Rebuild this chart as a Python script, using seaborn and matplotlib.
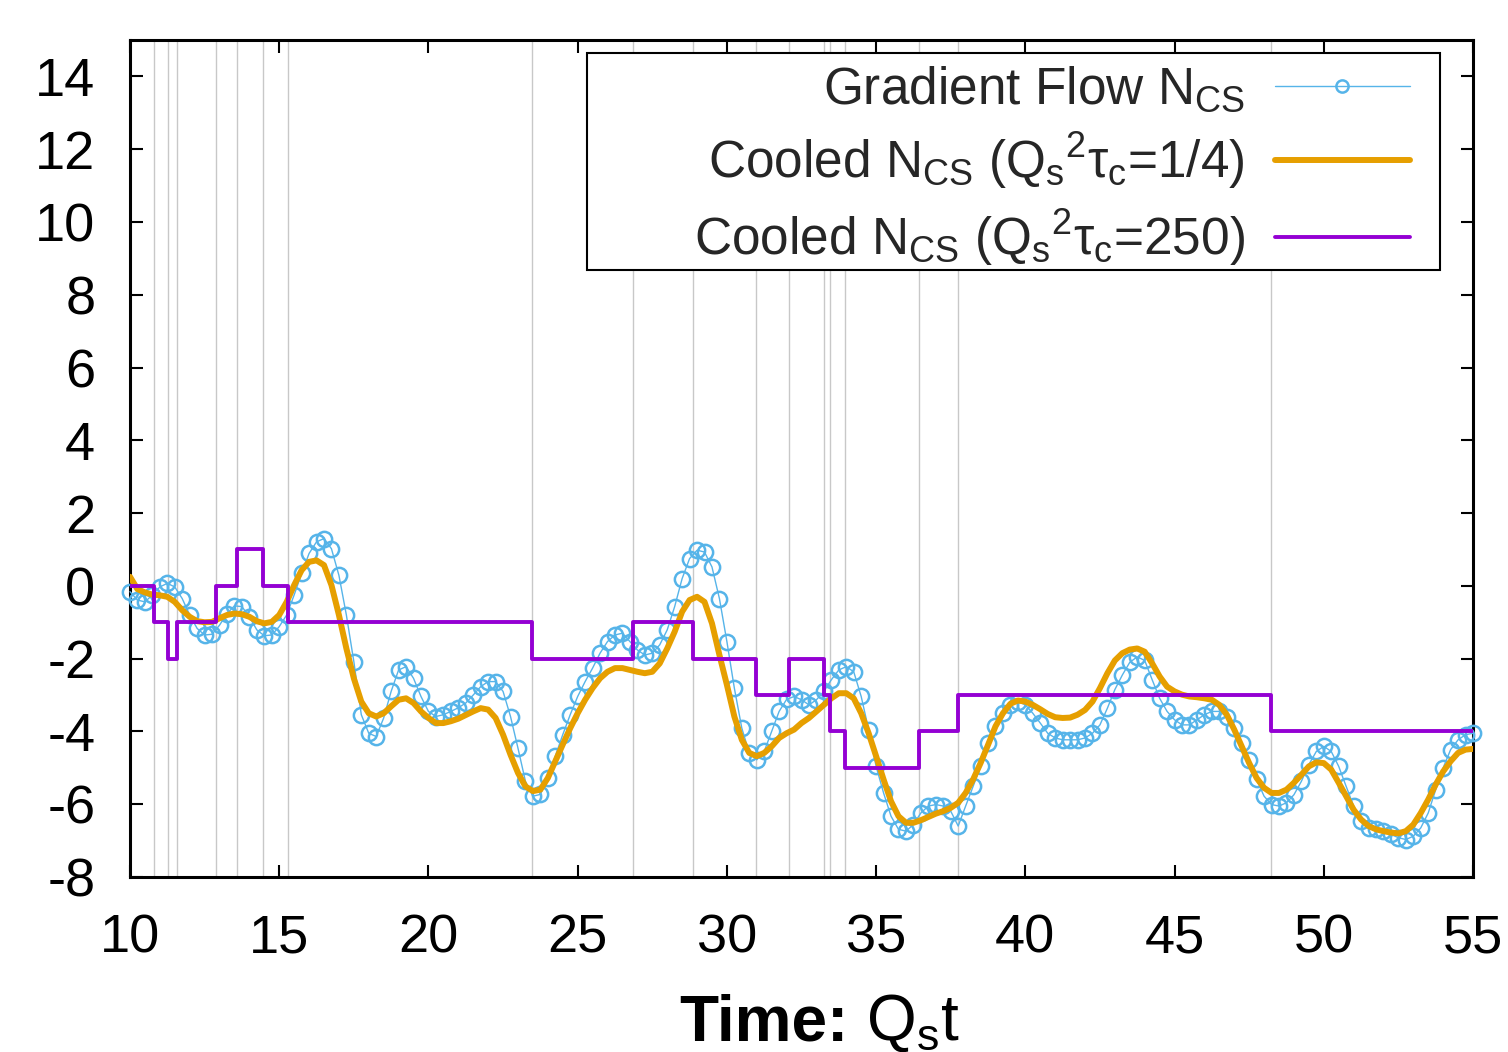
import matplotlib

matplotlib.use("Agg")

import matplotlib.pyplot as plt
import numpy as np
import seaborn as sns
from matplotlib.patches import Rectangle

# time grid of the read-off samples (step 0.25 from 10 to 55)
t_start, t_stop, t_step = 10.0, 55.0, 0.25

gradient_flow = [
    -0.16, -0.39, -0.44, -0.25, -0.03, 0.07, -0.03, -0.35, -0.80, -1.17,
    -1.35, -1.33, -1.08, -0.76, -0.55, -0.57, -0.85, -1.21, -1.37, -1.35,
    -1.12, -0.80, -0.25, 0.34, 0.89, 1.21, 1.30, 1.02, 0.29, -0.80,
    -2.08, -3.54, -4.05, -4.14, -3.63, -2.90, -2.31, -2.22, -2.54, -3.04,
    -3.45, -3.59, -3.54, -3.45, -3.35, -3.22, -3.00, -2.77, -2.63, -2.63,
    -2.90, -3.59, -4.46, -5.37, -5.78, -5.73, -5.28, -4.68, -4.09, -3.54,
    -3.04, -2.63, -2.26, -1.85, -1.53, -1.35, -1.30, -1.53, -1.76, -1.90,
    -1.85, -1.62, -1.21, -0.57, 0.20, 0.75, 0.98, 0.93, 0.52, -0.35,
    -1.53, -2.81, -3.91, -4.59, -4.78, -4.55, -4.00, -3.45, -3.12, -3.04,
    -3.13, -3.27, -3.13, -2.90, -2.58, -2.31, -2.22, -2.36, -3.04, -3.95,
    -4.96, -5.69, -6.33, -6.69, -6.74, -6.56, -6.24, -6.05, -6.01, -6.05,
    -6.19, -6.60, -6.05, -5.51, -4.96, -4.32, -3.86, -3.50, -3.27, -3.18,
    -3.27, -3.50, -3.77, -4.05, -4.18, -4.23, -4.23, -4.23, -4.18, -4.05,
    -3.82, -3.36, -2.85, -2.45, -2.10, -1.95, -2.05, -2.58, -3.09, -3.45,
    -3.68, -3.82, -3.82, -3.68, -3.54, -3.45, -3.45, -3.59, -3.91, -4.32,
    -4.78, -5.32, -5.78, -6.01, -6.05, -5.96, -5.74, -5.37, -4.91, -4.55,
    -4.41, -4.55, -4.96, -5.51, -6.05, -6.47, -6.65, -6.69, -6.74, -6.83,
    -6.92, -6.97, -6.88, -6.65, -6.24, -5.60, -5.00, -4.50, -4.23, -4.09,
    -4.05,
]

cooled_quarter = [
    0.25, -0.09, -0.18, -0.24, -0.26, -0.30, -0.44, -0.67, -0.85, -0.97,
    -1.00, -0.99, -0.89, -0.80, -0.76, -0.78, -0.85, -0.97, -1.03, -0.99,
    -0.80, -0.44, 0.02, 0.43, 0.66, 0.70, 0.57, 0.02, -0.80, -1.72,
    -2.54, -3.18, -3.50, -3.59, -3.50, -3.31, -3.13, -3.09, -3.22, -3.45,
    -3.63, -3.77, -3.77, -3.72, -3.65, -3.55, -3.45, -3.36, -3.40, -3.63,
    -4.09, -4.64, -5.14, -5.51, -5.64, -5.60, -5.28, -4.82, -4.36, -3.91,
    -3.50, -3.13, -2.81, -2.54, -2.36, -2.26, -2.26, -2.31, -2.36, -2.40,
    -2.36, -2.13, -1.72, -1.26, -0.71, -0.39, -0.30, -0.44, -1.03, -1.90,
    -2.72, -3.59, -4.23, -4.59, -4.68, -4.59, -4.41, -4.18, -4.05, -3.95,
    -3.77, -3.63, -3.45, -3.27, -3.09, -2.95, -2.95, -3.09, -3.50, -4.05,
    -4.68, -5.32, -5.92, -6.33, -6.51, -6.51, -6.44, -6.35, -6.26, -6.19,
    -6.10, -5.96, -5.69, -5.32, -4.87, -4.37, -3.86, -3.50, -3.24, -3.15,
    -3.18, -3.27, -3.39, -3.52, -3.61, -3.63, -3.62, -3.54, -3.41, -3.18,
    -2.81, -2.40, -2.05, -1.85, -1.75, -1.72, -1.81, -2.13, -2.49, -2.77,
    -2.90, -2.99, -3.04, -3.06, -3.09, -3.13, -3.27, -3.54, -3.95, -4.41,
    -4.87, -5.28, -5.55, -5.69, -5.69, -5.60, -5.41, -5.19, -4.96, -4.85,
    -4.87, -5.05, -5.41, -5.78, -6.15, -6.42, -6.60, -6.69, -6.74, -6.78,
    -6.80, -6.74, -6.56, -6.24, -5.87, -5.46, -5.10, -4.82, -4.59, -4.50,
    -4.48,
]

# long cooling: integer N_CS, changes at these times (also the grey lines)
transition_times = [10.79, 11.29, 11.57, 12.88, 13.58, 14.47, 15.28, 23.48, 26.87,
                    28.86, 30.96, 32.07, 33.27, 33.47, 33.96, 36.45, 37.76, 48.24]
cooled_long_levels = [0, -1, -2, -1, 0, 1, 0, -1, -2, -1, -2, -3, -2, -3, -4, -5,
                      -4, -3, -4]

x_ticks = [10, 15, 20, 25, 30, 35, 40, 45, 50, 55]
y_ticks = [-8, -6, -4, -2, 0, 2, 4, 6, 8, 10, 12, 14]

label_gf = r"Gradient Flow N$_{\rm CS}$"
label_quarter = r"Cooled N$_{\rm CS}$ (Q$_{\rm s}$$^{\rm 2}$τ$_{\rm c}$=1/4)"
label_long = r"Cooled N$_{\rm CS}$ (Q$_{\rm s}$$^{\rm 2}$τ$_{\rm c}$=250)"

BLUE = "#56B4E9"
ORANGE = "#E69F00"
PURPLE = "#9400D3"

W, H = 1508, 1052

sns.set_theme(style="ticks")
plt.rcParams.update(
    {
        "font.family": ["Liberation Sans", "DejaVu Sans"],
        "axes.unicode_minus": False,
        "mathtext.fontset": "custom",
        "mathtext.rm": "Liberation Sans",
        "mathtext.it": "Liberation Sans",
        "mathtext.bf": "Liberation Sans:bold",
    }
)

time = np.arange(t_start, t_stop + t_step / 2, t_step)
step_x = [t_start] + transition_times + [t_stop]
step_y = cooled_long_levels + [cooled_long_levels[-1]]

fig = plt.figure(figsize=(W / 100, H / 100), dpi=100)
ax = fig.add_axes([130 / W, 1 - 877 / H, (1473 - 130) / W, (877 - 40) / H])

for tt in transition_times:
    ax.axvline(tt, color="#c8c8c8", lw=1.0, zorder=0)

sns.lineplot(x=time, y=gradient_flow, ax=ax, color=BLUE, lw=1.0, marker="o",
             markersize=11, markerfacecolor="none", markeredgecolor=BLUE,
             markeredgewidth=1.8, sort=False, estimator=None, label=label_gf,
             clip_on=False, zorder=3)
sns.lineplot(x=time, y=cooled_quarter, ax=ax, color=ORANGE, lw=4.3, sort=False,
             estimator=None, label=label_quarter, zorder=4)
sns.lineplot(x=step_x, y=step_y, ax=ax, color=PURPLE, lw=2.8, drawstyle="steps-post",
             sort=False, estimator=None, label=label_long, zorder=5)

ax.set_xlim(10, 55)
ax.set_ylim(-8, 15)
ax.set_xticks(x_ticks)
ax.set_yticks(y_ticks)
ax.set_xlabel("")
ax.set_ylabel("")
ax.tick_params(direction="in", length=9, width=1.5, labelsize=39, top=True, right=True,
               color="black", labelcolor="black")
ax.tick_params(axis="x", pad=26)
ax.tick_params(axis="y", pad=25)
for spine in ax.spines.values():
    spine.set_visible(True)
    spine.set_linewidth(2.2)
    spine.set_color("black")

fig.text(848 / W, 0.0114, "Time:", fontsize=46, fontweight="bold", ha="right",
         va="baseline", color="black")
fig.text(866 / W, 0.0114, r"Q$_{\rm s}$t", fontsize=46, ha="left",
         va="baseline", color="black")

# key frame drawn as a plain box, the key itself sits inside without frame
frame = Rectangle((587 / W, 1 - 270 / H), (1440 - 587) / W, (270 - 53) / H,
                  transform=fig.transFigure, facecolor="white", edgecolor="black",
                  linewidth=1.5, zorder=9)
ax.add_patch(frame)
frame.set_clip_on(False)

leg = ax.legend(loc="upper right", bbox_to_anchor=(1410 / W, 1 - 65 / H),
                bbox_transform=fig.transFigure, borderaxespad=0, borderpad=0,
                markerfirst=False, frameon=False, numpoints=1,
                prop={"size": 37}, handlelength=2.63, handletextpad=0.58,
                labelspacing=0.31, markerscale=0.8)
for txt in leg.get_texts():
    txt.set_ha("right")
leg.set_zorder(10)

fig.savefig("out.png", dpi=100, facecolor="white")
